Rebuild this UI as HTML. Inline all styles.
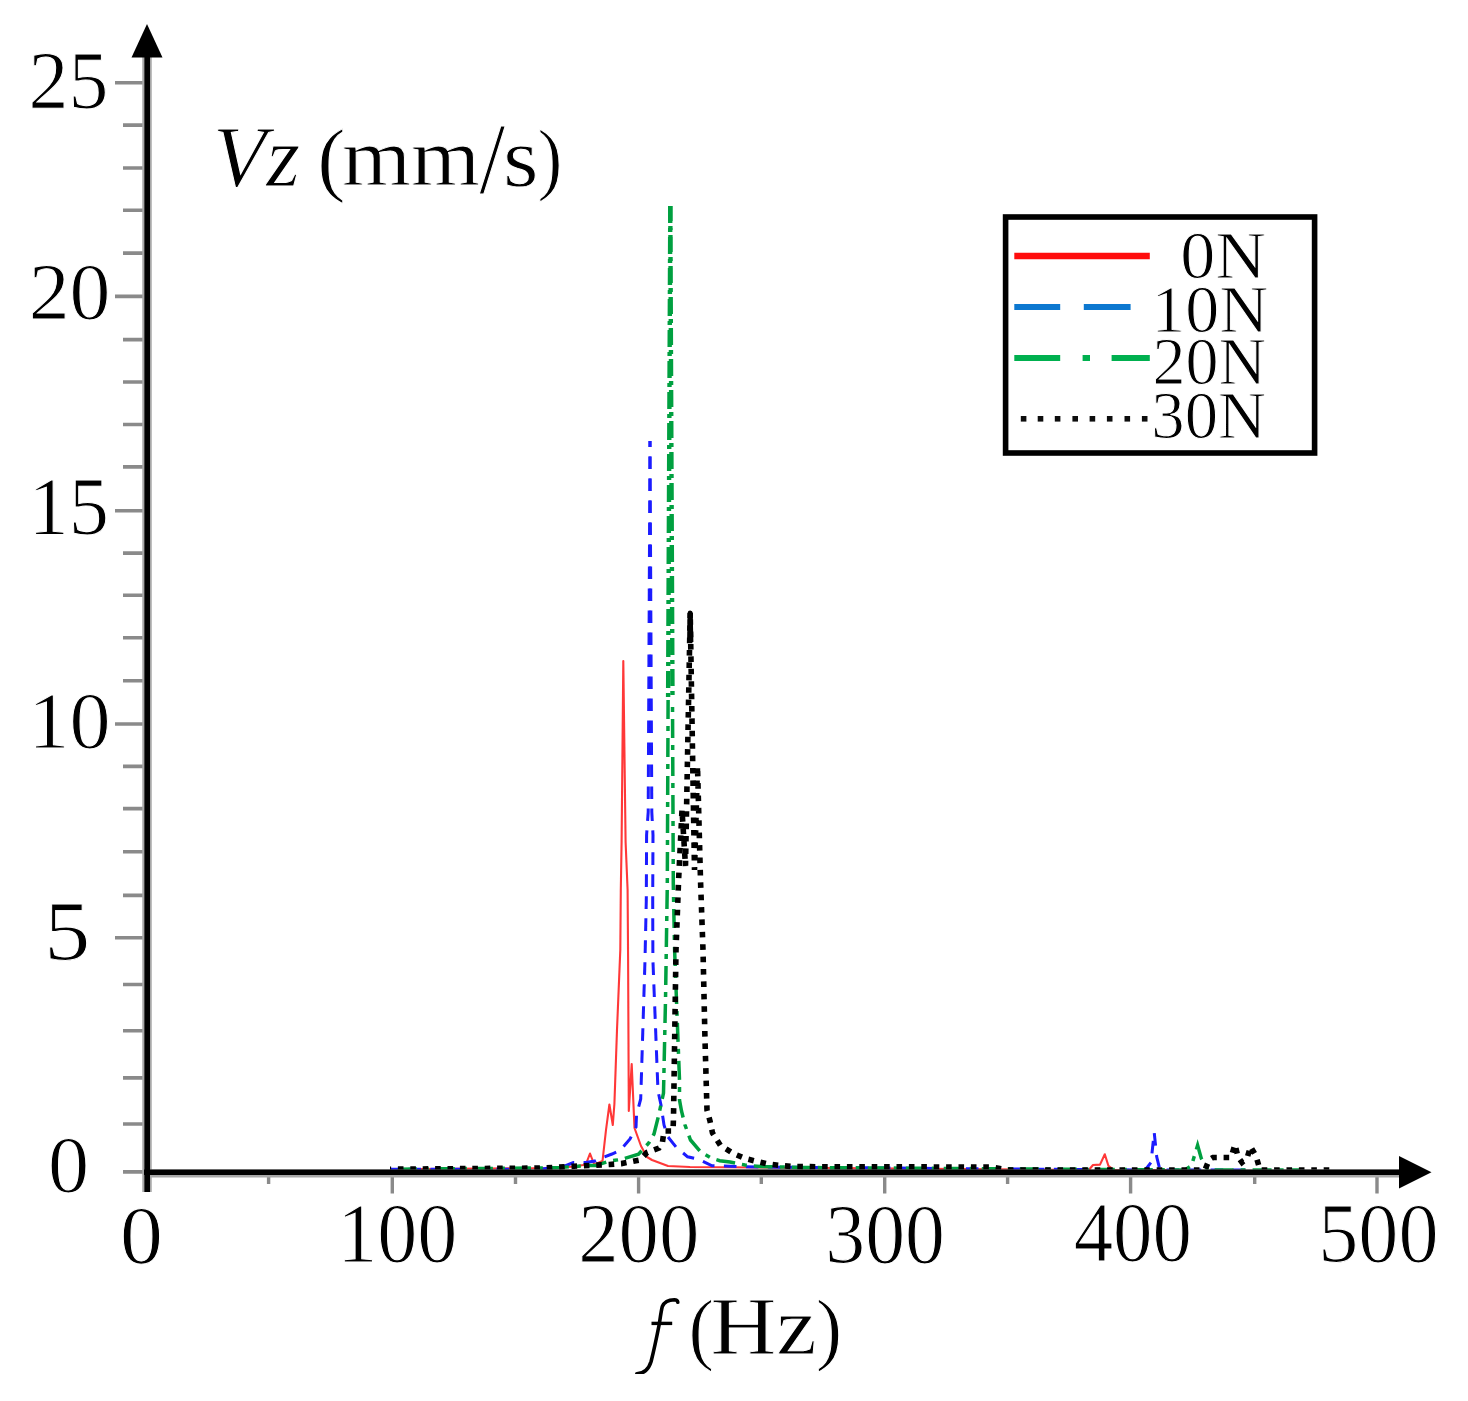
<!DOCTYPE html><html><head><meta charset="utf-8"><style>html,body{margin:0;padding:0;background:#fff;overflow:hidden}svg{display:block}</style></head><body>
<svg width="1468" height="1401" viewBox="0 0 1468 1401">
<defs><filter id="bl" x="0" y="0" width="1" height="1"><feGaussianBlur stdDeviation="0.5"/></filter></defs>
<rect width="1468" height="1401" fill="#fff"/>
<g filter="url(#bl)">
<path d="M123 1171.9H146 M123 1124.0H146 M123 1077.9H146 M123 1030.7H146 M123 984.5H146 M115 937.8H146 M123 895.4H146 M123 851.7H146 M123 808.6H146 M123 766.4H146 M115 724.0H146 M123 680.7H146 M123 637.7H146 M123 595.3H146 M123 553.1H146 M115 510.7H146 M123 466.9H146 M123 424.5H146 M123 382.0H146 M123 339.6H146 M115 296.4H146 M123 253.1H146 M123 210.3H146 M123 168.0H146 M123 125.1H146 M115 82.8H146" stroke="#8a8a8a" stroke-width="3.6" fill="none"/>
<path d="M268.6 1174V1184 M392.3 1174V1193.5 M515.5 1174V1184 M638.6 1174V1193.5 M761.3 1174V1184 M884.7 1174V1193.5 M1007.6 1174V1184 M1130.6 1174V1193.5 M1254.7 1174V1184 M1377.0 1174V1193.5" stroke="#8a8a8a" stroke-width="3.4" fill="none"/>
<path d="M390.0 1169.2 L545.0 1168.0 L560.0 1167.5 L575.0 1166.5 L583.0 1165.0 L586.0 1164.0 L590.0 1153.5 L594.0 1164.0 L598.0 1163.0 L602.5 1161.0 L606.0 1130.0 L609.4 1104.5 L612.8 1125.0 L614.4 1104.0 L617.0 1030.0 L620.3 950.0 L620.8 890.0 L621.6 842.0 L623.3 661.0 L625.6 842.0 L627.6 890.0 L628.1 960.0 L628.8 1111.0 L631.7 1064.0 L634.5 1128.0 L641.0 1146.0 L647.0 1157.0 L652.0 1160.0 L660.0 1163.0 L668.0 1166.0 L690.0 1167.0 L760.0 1167.5 L1085.0 1170.0 L1088.8 1170.0 L1093.0 1165.0 L1100.0 1164.6 L1104.8 1154.3 L1108.4 1165.8 L1114.0 1170.0 L1200.0 1170.0" fill="none" stroke="#ff3838" stroke-width="2.1" stroke-linejoin="round"/>
<path d="M650.0 441.0 L648.2 812.0 L646.6 835.0 L646.3 900.0 L645.0 960.0 L640.7 1099.0 L636.5 1115.0 L636.0 1127.0 L630.0 1139.0 L620.5 1150.0 L612.0 1154.0 L604.0 1157.0 L595.0 1161.0 L585.8 1162.6 L573.4 1162.6 L565.0 1166.0 L540.0 1169.2 L390.0 1169.2" fill="none" stroke="#1a1aff" stroke-width="3.0" stroke-dasharray="12.6 9.4" stroke-dashoffset="6.6"/>
<path d="M650.0 441.0 L651.8 812.0 L653.0 835.0 L652.7 900.0 L652.9 960.0 L658.0 1091.0 L661.0 1105.0 L664.0 1125.0 L668.0 1137.0 L676.0 1147.0 L687.6 1156.8 L699.0 1159.4 L712.0 1165.8 L722.0 1166.0 L760.0 1167.0 L1140.0 1170.0 L1145.2 1170.0 L1151.0 1162.5 L1154.2 1132.3 L1156.7 1156.8 L1160.0 1170.0 L1250.0 1170.0" fill="none" stroke="#1a1aff" stroke-width="3.0" stroke-dasharray="12.6 9.4" stroke-dashoffset="6.6"/>
<path d="M670.3 206.0 L668.1 700.0" fill="none" stroke="#00a040" stroke-width="4.4" stroke-dasharray="17 5 4 5"/>
<path d="M670.3 206.0 L672.5 700.0" fill="none" stroke="#00a040" stroke-width="4.4" stroke-dasharray="17 5 4 5" stroke-dashoffset="2"/>
<path d="M668.1 700.0 L667.3 885.0 L665.5 1000.0 L663.5 1093.0 L661.0 1104.5 L658.5 1116.0 L654.0 1134.0 L648.8 1143.0 L638.5 1154.2 L621.4 1159.4 L610.0 1161.0 L595.7 1165.4 L589.7 1165.4 L560.0 1167.5 L545.0 1168.0 L390.0 1169.2" fill="none" stroke="#00a040" stroke-width="3.5" stroke-dasharray="19 7 5 7"/>
<path d="M672.5 700.0 L673.3 885.0 L674.6 950.0 L679.5 1080.0 L679.5 1100.0 L681.5 1111.0 L685.0 1125.0 L690.5 1140.0 L700.4 1151.7 L711.0 1158.0 L719.7 1160.7 L730.0 1162.0 L745.0 1165.0 L760.0 1166.5 L800.0 1167.5 L1185.0 1170.0 L1191.4 1165.8 L1197.6 1145.3 L1201.3 1158.4 L1207.8 1170.0 L1300.0 1170.0" fill="none" stroke="#00a040" stroke-width="3.5" stroke-dasharray="19 7 5 7" stroke-dashoffset="19"/>
<path d="M689.6 642 L690.2 613 L690.9 642" fill="none" stroke="#000" stroke-width="5" stroke-linejoin="round"/>
<path d="M690.2 612.8 L685.5 866.0 L682.0 810.0 L678.6 880.0 L676.0 950.0 L674.5 1050.0 L673.5 1118.0 L673.0 1131.0 L664.0 1131.0 L662.5 1142.0 L659.0 1148.0 L647.0 1152.5 L640.0 1160.0 L621.4 1163.6 L609.4 1164.5 L574.0 1166.2 L545.0 1168.0 L390.0 1169.2" fill="none" stroke="#000" stroke-width="5.6" stroke-dasharray="5.6 6.8"/>
<path d="M690.2 612.8 L694.5 870.0 L697.5 766.0 L700.5 880.0 L703.0 950.0 L705.0 1040.0 L707.0 1110.0 L710.0 1121.0 L712.5 1133.0 L720.4 1145.4 L733.5 1153.6 L745.6 1158.6 L757.4 1161.6 L768.0 1164.0 L780.0 1165.5 L792.0 1166.5 L830.0 1166.8 L990.0 1167.0 L1010.0 1170.0 L1205.0 1170.0 L1209.0 1160.0 L1213.0 1157.5 L1231.0 1157.5 L1235.0 1144.5 L1238.0 1157.0 L1242.0 1162.5 L1247.0 1158.5 L1250.5 1146.5 L1256.0 1156.0 L1260.0 1170.0 L1300.0 1170.0 L1335.0 1170.0" fill="none" stroke="#000" stroke-width="5.6" stroke-dasharray="5.6 6.8" stroke-dashoffset="6"/>
<path d="M147 55V1192" stroke="#a8a8a8" stroke-width="9.5" fill="none"/>
<path d="M144 1172.3H1402" stroke="#a8a8a8" stroke-width="8" fill="none" transform="translate(0,1.2)"/>
<path d="M147.2 55V1192" stroke="#000" stroke-width="5.6" fill="none"/>
<path d="M144 1172.3H1402" stroke="#000" stroke-width="5.6" fill="none"/>
<path d="M1174.5 1176H1400" stroke="#a0a0a0" stroke-width="0" fill="none"/>
<path d="M147 24L131.5 57.5H162.5Z" fill="#000"/>
<path d="M1431.5 1172.3L1399 1156V1188.5Z" fill="#000"/>
<rect x="1005.6" y="217" width="309" height="236" fill="#fff" stroke="#000" stroke-width="5.6"/>
<path d="M1014.3 256H1149.8" stroke="#ff1010" stroke-width="6.5"/>
<path d="M1014.3 307H1060.2M1083.8 307H1130.6" stroke="#0a78d0" stroke-width="6"/>
<path d="M1014.3 358H1060.2M1082.6 358H1090M1111.6 358H1149.8" stroke="#00b050" stroke-width="6"/>
<g fill="#111"><rect x="1020.8" y="416" width="5.6" height="5.6"/><rect x="1037.7" y="416" width="5.6" height="5.6"/><rect x="1054.8" y="416" width="5.6" height="5.6"/><rect x="1072.4" y="416" width="5.6" height="5.6"/><rect x="1089.6" y="416" width="5.6" height="5.6"/><rect x="1106.9" y="416" width="5.6" height="5.6"/><rect x="1124.5" y="416" width="5.6" height="5.6"/><rect x="1141.9" y="416" width="5.6" height="5.6"/></g>
<text transform="translate(28.61,108.10) scale(0.7989,0.8231)" font-family="Liberation Serif" font-size="100" fill="#000" stroke="#fff" stroke-width="1.25">25</text>
<text transform="translate(28.71,319.19) scale(0.8178,0.8121)" font-family="Liberation Serif" font-size="100" fill="#000" stroke="#fff" stroke-width="1.22">20</text>
<text transform="translate(28.46,534.20) scale(0.8047,0.8338)" font-family="Liberation Serif" font-size="100" fill="#000" stroke="#fff" stroke-width="1.24">15</text>
<text transform="translate(28.30,747.79) scale(0.8221,0.8121)" font-family="Liberation Serif" font-size="100" fill="#000" stroke="#fff" stroke-width="1.22">10</text>
<text transform="translate(44.25,960.00) scale(0.9211,0.8375)" font-family="Liberation Serif" font-size="100" fill="#000" stroke="#fff" stroke-width="1.09">5</text>
<text transform="translate(47.99,1192.09) scale(0.8225,0.8121)" font-family="Liberation Serif" font-size="100" fill="#000" stroke="#fff" stroke-width="1.22">0</text>
<text transform="translate(119.91,1262.98) scale(0.8575,0.8152)" font-family="Liberation Serif" font-size="100" fill="#000" stroke="#fff" stroke-width="1.17">0</text>
<text transform="translate(337.19,1261.75) scale(0.8015,0.8455)" font-family="Liberation Serif" font-size="100" fill="#000" stroke="#fff" stroke-width="1.25">100</text>
<text transform="translate(578.16,1262.15) scale(0.8079,0.8485)" font-family="Liberation Serif" font-size="100" fill="#000" stroke="#fff" stroke-width="1.24">200</text>
<text transform="translate(825.21,1262.75) scale(0.7986,0.8455)" font-family="Liberation Serif" font-size="100" fill="#000" stroke="#fff" stroke-width="1.25">300</text>
<text transform="translate(1073.63,1261.45) scale(0.7887,0.8455)" font-family="Liberation Serif" font-size="100" fill="#000" stroke="#fff" stroke-width="1.27">400</text>
<text transform="translate(1318.18,1262.36) scale(0.8022,0.8379)" font-family="Liberation Serif" font-size="100" fill="#000" stroke="#fff" stroke-width="1.25">500</text>
<text transform="translate(212.97,185.54) scale(0.8717,0.8646)" font-family="Liberation Serif" font-size="100" fill="#000" stroke="#fff" stroke-width="1.15"><tspan font-style="italic">Vz</tspan></text>
<text transform="translate(317.15,185.91) scale(0.8500,0.8193)" font-family="Liberation Serif" font-size="100" fill="#000" stroke="#fff" stroke-width="1.18">(</text>
<text transform="translate(342.04,185.04) scale(0.8880,0.8356)" font-family="Liberation Serif" font-size="100" fill="#000" stroke="#fff" stroke-width="1.13">mm</text>
<text transform="translate(479.27,193.38) scale(0.9346,1.0246)" font-family="Liberation Serif" font-size="100" fill="#000" stroke="#fff" stroke-width="1.07">/</text>
<text transform="translate(503.03,185.80) scale(0.9133,0.8522)" font-family="Liberation Serif" font-size="100" fill="#000" stroke="#fff" stroke-width="1.09">s</text>
<text transform="translate(537.50,185.30) scale(0.7500,0.8102)" font-family="Liberation Serif" font-size="100" fill="#000" stroke="#fff" stroke-width="1.33">)</text>
<text transform="translate(688.47,1355.45) scale(0.7667,0.8125)" font-family="Liberation Serif" font-size="100" fill="#000" stroke="#fff" stroke-width="1.30">(</text>
<text transform="translate(710.45,1353.60) scale(0.9128,0.8344)" font-family="Liberation Serif" font-size="100" fill="#000" stroke="#fff" stroke-width="1.10">Hz</text>
<text transform="translate(815.82,1354.84) scale(0.7958,0.8080)" font-family="Liberation Serif" font-size="100" fill="#000" stroke="#fff" stroke-width="1.26">)</text>
<text transform="translate(1180.19,277.72) scale(0.7018,0.6848)" font-family="Liberation Serif" font-size="100" fill="#000" stroke="#fff" stroke-width="1.43">0N</text>
<text transform="translate(1151.28,331.92) scale(0.6800,0.6788)" font-family="Liberation Serif" font-size="100" fill="#000" stroke="#fff" stroke-width="1.47">10N</text>
<text transform="translate(1152.40,383.52) scale(0.6610,0.6788)" font-family="Liberation Serif" font-size="100" fill="#000" stroke="#fff" stroke-width="1.51">20N</text>
<text transform="translate(1151.30,437.72) scale(0.6675,0.6788)" font-family="Liberation Serif" font-size="100" fill="#000" stroke="#fff" stroke-width="1.50">30N</text>
<path d="M636.8 1373.8 C643 1373.5 648.5 1370 651.1 1361.5 C653.5 1352 656.6 1337.7 659.3 1324 C660.5 1316 661.3 1310 662.3 1306.5 C664.5 1301.5 668.5 1300 674.3 1299.8 C676 1299.8 677.5 1300.3 677.8 1302.3" fill="none" stroke="#000" stroke-width="3.6" stroke-linecap="round"/>
<path d="M651.5 1323.4H672.2" stroke="#000" stroke-width="3.4"/>
</g>
</svg></body></html>
